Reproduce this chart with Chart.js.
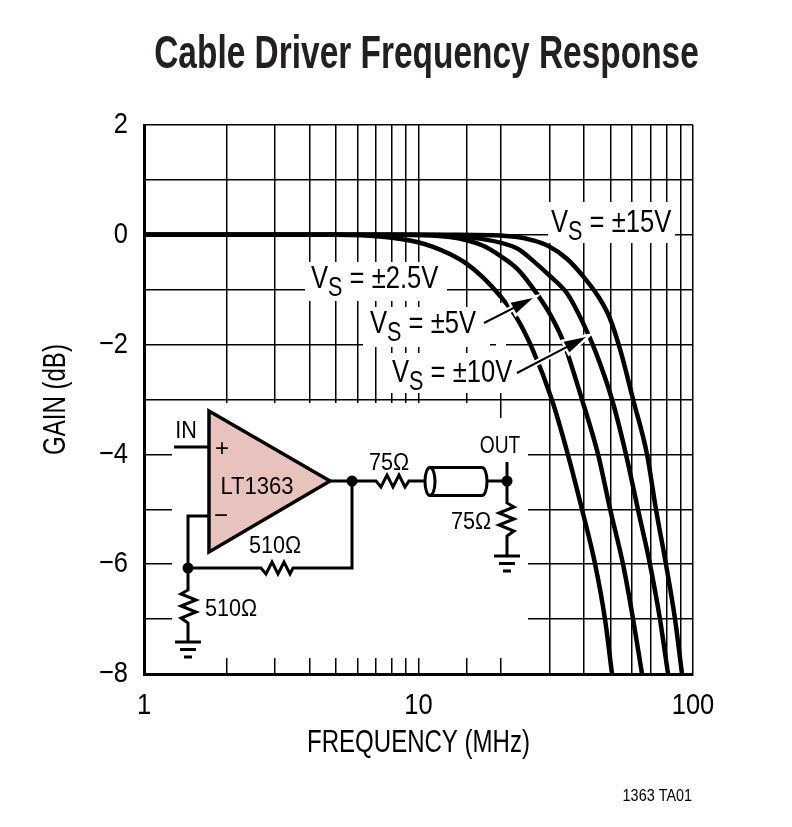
<!DOCTYPE html>
<html><head><meta charset="utf-8">
<style>html,body{margin:0;padding:0;background:#fff}canvas{display:block}</style>
<script src="https://cdn.jsdelivr.net/npm/chart.js@4"></script></head>
<body><canvas id="c" width="792" height="827"></canvas>
<script>
const FONT = '"Liberation Sans",sans-serif';
const titleText = 'Cable Driver Frequency Response';
const xTitle = 'FREQUENCY (MHz)';
const yTitle = 'GAIN (dB)';
const footerText = '1363 TA01';
const xTickLabels = [1, 10, 100];
const yTickLabels = [2, 0, -2, -4, -6, -8];

const freq25 = [1, 5, 7.55, 9.87, 11.3, 13.0, 15.0, 17.2, 19.8, 22.9, 25.9, 30.6, 35.0, 39.4, 44.0, 47.8, 50.7];
const gain25 = [0, 0, -0.04, -0.13, -0.22, -0.35, -0.53, -0.78, -1.11, -1.53, -2.06, -3, -4, -5, -6, -7, -8];
const freq5 = [1, 8, 13.0, 17.2, 19.8, 22.9, 26.1, 30.1, 33.6, 39.4, 45.1, 49.9, 55.6, 60.5, 65.2];
const gain5 = [0, 0, -0.04, -0.2, -0.38, -0.62, -0.97, -1.44, -1.93, -3, -4, -5, -6, -7, -8];
const freq10 = [1, 10, 16.7, 22.9, 26.1, 30.1, 34.8, 39.7, 44.0, 50.7, 57.0, 63.0, 69.7, 75.8, 81.1];
const gain10 = [0, 0, -0.07, -0.25, -0.47, -0.75, -1.07, -1.6, -2.11, -3, -4, -5, -6, -7, -8];
const freq15 = [1, 14, 22.9, 26.1, 29.6, 34.8, 39.7, 45.8, 49.9, 54.2, 60.5, 68.0, 73.3, 79.7, 86.0, 91.2];
const gain15 = [0, 0, -0.04, -0.1, -0.2, -0.44, -0.75, -1.17, -1.53, -2.08, -3, -4, -5, -6, -7, -8];
const seriesFreq = [freq25, freq5, freq10, freq15];
const seriesGain = [gain25, gain5, gain10, gain15];
const seriesNames = ['VS = ±2.5V', 'VS = ±5V', 'VS = ±10V', 'VS = ±15V'];

const whitePatches = [
  [172,403,323,255],[495,418,33,240],
  [305,262,142,39],[363,307,127,40],[390,353,127,40],[496,303,10,50],[548,202,127,41]
];
const supplyLabels = [
  ['±2.5V',311,288],['±5V',370,333],['±10V',392,382],['±15V',551,232]
];
const arrows = [[484,323,533,298],[517,373,586,337]];
const schematicTexts = [
  ['IN',186,438,.9],['LT1363',257,494,.92],['+',222,456,1],['−',221,523,1],
  ['75Ω',389,470,.9],['75Ω',471,529,.9],['510Ω',275,553,.9],['510Ω',231,616,.9],['OUT',500,453,.8]
];

// no condensed face is installed: condense the text horizontally about its anchor
const scaleBySize = {46:.727,31:.775,30:.85};
let sxOverride = null;
const cv = document.getElementById('c');
const cx = cv.getContext('2d');
const nativeFill = cx.fillText.bind(cx);
cx.fillText = function(t,x,y,m){
  const sz = parseFloat((cx.font.match(/([\d.]+)px/)||[])[1]);
  const sx = sxOverride!==null ? sxOverride : (scaleBySize[sz]||1);
  cx.save();cx.translate(x,y);cx.scale(sx,1);nativeFill(t,0,0);cx.restore();
};

const drawings = {
  id:'drawings',
  beforeDatasetsDraw(chart){
    const c = chart.ctx; c.save(); c.fillStyle='#fff';
    whitePatches.forEach(r=>c.fillRect(r[0],r[1],r[2],r[3]));
    c.restore();
  },
  afterDatasetsDraw(chart){
    const c = chart.ctx; c.save();
    c.lineJoin='miter'; c.lineCap='butt';
    arrows.forEach(a=>{
      const ang=Math.atan2(a[3]-a[1],a[2]-a[0]);
      const head=(x,y,l,w)=>{c.beginPath();c.moveTo(x,y);
        c.lineTo(x-l*Math.cos(ang)+w*Math.sin(ang),y-l*Math.sin(ang)-w*Math.cos(ang));
        c.lineTo(x-l*Math.cos(ang)-w*Math.sin(ang),y-l*Math.sin(ang)+w*Math.cos(ang));c.closePath();};
      c.strokeStyle='#fff';c.lineWidth=6;c.beginPath();c.moveTo(a[0],a[1]);c.lineTo(a[2],a[3]);c.stroke();
      c.lineWidth=5;head(a[2],a[3],22,6);c.stroke();
      c.strokeStyle='#000';c.lineWidth=2;c.beginPath();c.moveTo(a[0],a[1]);c.lineTo(a[2]-10*Math.cos(ang),a[3]-10*Math.sin(ang));c.stroke();
      c.fillStyle='#000';head(a[2],a[3],22,6);c.fill();
    });
    c.fillStyle='#000';c.textBaseline='alphabetic';c.textAlign='left';
    sxOverride=.8;
    supplyLabels.forEach(l=>{
      let x=l[1];const y=l[2];
      c.font='32px '+FONT;c.fillText('V',x,y);x+=c.measureText('V').width*.8;
      c.font='27px '+FONT;c.fillText('S',x,y+8);x+=c.measureText('S').width*.8;
      c.font='32px '+FONT;c.fillText(' = '+l[0],x,y);
    });
    c.strokeStyle='#000';
    c.beginPath();c.moveTo(209,411);c.lineTo(330,481);c.lineTo(209,552);c.closePath();
    c.fillStyle='#e8c3be';c.fill();c.lineWidth=3.5;c.stroke();c.lineWidth=3;
    const wire=(p)=>{c.beginPath();p.forEach((q,i)=>i?c.lineTo(q[0],q[1]):c.moveTo(q[0],q[1]));c.stroke();};
    wire([[174,447],[209,447]]);
    wire([[209,516],[188,516],[188,568]]);
    wire([[188,568],[257,568],[261,568],[266,574],[272,562],[278,574],[284,562],[290,574],[293,568],[352,568],[352,481]]);
    wire([[330,481],[373,481],[376,481],[381,487],[387,475],[393,487],[399,475],[405,487],[409,481],[424,481]]);
    wire([[188,568],[188,590],[181,594],[196,600],[181,606],[196,612],[181,618],[188,623],[188,642]]);
    wire([[507,462],[507,503],[514,507],[499,513],[514,519],[499,525],[514,531],[507,536],[507,555]]);
    wire([[487,481],[507,481]]);
    c.beginPath();c.ellipse(430,481.5,5,14,0,0,Math.PI*2);c.stroke();
    wire([[430,467.5],[482,467.5]]);wire([[430,495.5],[482,495.5]]);
    c.beginPath();c.ellipse(482,481.5,5,14,0,-Math.PI/2,Math.PI/2);c.stroke();
    [[188,642],[507,556]].forEach(g=>{
      wire([[g[0]-13,g[1]],[g[0]+13,g[1]]]);wire([[g[0]-8,g[1]+7.5],[g[0]+8,g[1]+7.5]]);wire([[g[0]-4,g[1]+15],[g[0]+4,g[1]+15]]);
    });
    c.fillStyle='#000';
    [[188,568],[352,481],[507,481]].forEach(d=>{c.beginPath();c.arc(d[0],d[1],5.5,0,Math.PI*2);c.fill();});
    c.textAlign='center';c.font='24px '+FONT;
    schematicTexts.forEach(t=>{sxOverride=t[3];c.fillText(t[0],t[1],t[2]);});
    c.font='16px '+FONT;c.textAlign='right';sxOverride=.9;c.fillText(footerText,692,801);
    sxOverride=null;
    c.restore();
  },
  afterLayout(chart){ const t=chart.titleBlock; t.left+=80; t.right+=80; }
};

new Chart(cv,{
  type:'line',
  plugins:[drawings],
  data:{datasets:seriesNames.map((n,i)=>({
    label:n,
    data:seriesFreq[i].map((f,j)=>({x:f,y:seriesGain[i][j]})),
    borderColor:'#000',borderWidth:4.5,pointRadius:0,cubicInterpolationMode:'monotone',fill:false
  }))},
  options:{
    responsive:false,animation:false,devicePixelRatio:1,
    layout:{padding:{left:0,right:99,top:0,bottom:0}},
    plugins:{
      legend:{display:false},tooltip:{enabled:false},
      title:{display:true,text:titleText,color:'#231f20',
        font:{family:FONT,size:46,weight:'bold',lineHeight:1},
        padding:{top:32,bottom:47}}
    },
    scales:{
      x:{type:'logarithmic',min:1,max:100,
        afterFit(s){s.height=153;},
        grid:{color:'#000',lineWidth:1.5,drawTicks:false},
        border:{color:'#000',width:3},
        title:{display:true,text:xTitle,color:'#000',font:{family:FONT,size:31},padding:{top:0,bottom:65}},
        ticks:{color:'#000',font:{family:FONT,size:30},padding:14,autoSkip:false,maxRotation:0,
          callback(v){return xTickLabels.includes(v)?String(v):'';}}
      },
      y:{type:'linear',min:-8,max:2,
        afterFit(s){s.width=144;},
        grid:{color:'#000',lineWidth:1.5,drawTicks:false},
        border:{color:'#000',width:3},
        title:{display:true,text:yTitle,color:'#000',font:{family:FONT,size:31},padding:{top:38,bottom:0}},
        ticks:{color:'#000',font:{family:FONT,size:30},padding:16,stepSize:1,autoSkip:false,
          callback(v){return yTickLabels.includes(v)?String(v).replace('-','−'):'';}}
      }
    }
  }
});
</script></body></html>
